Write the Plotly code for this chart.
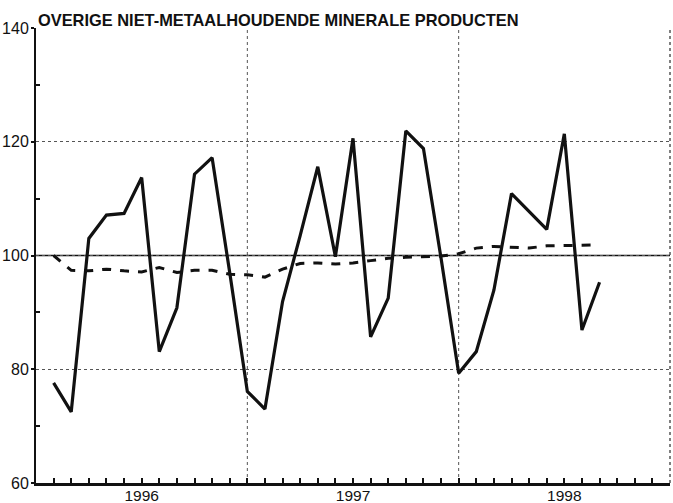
import plotly.graph_objects as go

# months since Jan 1996 (points plotted at month ends)
months = list(range(1, 33))
index_values = [77.6, 72.5, 103.0, 107.1, 107.4, 113.7, 83.1, 90.8, 114.3, 117.2, 97.0, 76.1,
                73.0, 91.9, 103.5, 115.6, 99.8, 120.6, 85.7, 92.5, 121.9, 118.8, 99.5, 79.3,
                83.1, 93.9, 110.9, 107.7, 104.6, 121.4, 86.9, 95.3]
trend_values = [100.0, 97.4, 97.3, 97.6, 97.3, 97.1, 97.9, 97.0, 97.4, 97.4, 96.7, 96.6,
                96.2, 97.6, 98.6, 98.7, 98.5, 98.7, 99.1, 99.5, 99.7, 99.8, 99.9, 100.3,
                101.3, 101.6, 101.4, 101.3, 101.7, 101.7, 101.8, 101.9]
year_labels = ["1996", "1997", "1998"]
year_centers = [6, 18, 30]
year_bounds = [12, 24]
y_ticks = [60, 80, 100, 120, 140]
y_minor = [70, 90, 110, 130]
title = "OVERIGE NIET-METAALHOUDENDE MINERALE PRODUCTEN"

fig = go.Figure()
fig.add_trace(go.Scatter(x=months, y=trend_values, mode="lines",
                         line=dict(color="#111", width=3, dash="dash"), showlegend=False))
fig.add_trace(go.Scatter(x=months, y=index_values, mode="lines",
                         line=dict(color="#111", width=3.2), showlegend=False))

shapes = []
for b in year_bounds:
    shapes.append(dict(type="line", xref="x", yref="paper", x0=b, x1=b, y0=0, y1=1,
                       line=dict(color="#555", width=1, dash="dot"), layer="below"))
# right border dotted
shapes.append(dict(type="line", xref="paper", yref="paper", x0=1, x1=1, y0=0, y1=1,
                   line=dict(color="#555", width=1.5, dash="dot"), layer="below"))
# reference line at 100
shapes.append(dict(type="line", xref="paper", yref="y", x0=0, x1=1, y0=100, y1=100,
                   line=dict(color="#111", width=1.5), layer="below"))

fig.update_layout(
    width=673, height=503,
    margin=dict(l=36, r=3, t=28, b=20),
    paper_bgcolor="white", plot_bgcolor="white",
    font=dict(family="Liberation Sans, Arial, sans-serif", color="#111"),
    shapes=shapes,
    annotations=[dict(text="<b>" + title + "</b>", xref="paper", yref="paper",
                      x=0, y=1, xanchor="left", yanchor="bottom", showarrow=False,
                      font=dict(size=16.4, color="#111"), yshift=-3)],
    xaxis=dict(range=[0, 36], tickvals=year_centers, ticktext=year_labels, ticks="",
               showgrid=False, zeroline=False, showline=True, linecolor="#111", linewidth=2.5,
               tickfont=dict(size=15.5), automargin=False, ticklabelstandoff=-3,
               minor=dict(tickvals=list(range(1, 36)), ticks="inside", ticklen=5,
                          tickwidth=1.5, tickcolor="#111", showgrid=False)),
    yaxis=dict(range=[60, 140], tickvals=y_ticks, ticks="outside", ticklen=3, tickwidth=2,
               tickcolor="#111", showgrid=True, gridcolor="#555", gridwidth=1, griddash="dot",
               zeroline=False, showline=True, linecolor="#111", linewidth=2,
               tickfont=dict(size=16), automargin=False, ticklabelstandoff=-1,
               minor=dict(tickvals=y_minor, ticks="inside", ticklen=4, tickwidth=1.5,
                          tickcolor="#111", showgrid=False)),
)

fig.write_html("out.html", config={"displayModeBar": False},
               post_script="document.body.style.margin='0';document.body.style.overflow='hidden';")
